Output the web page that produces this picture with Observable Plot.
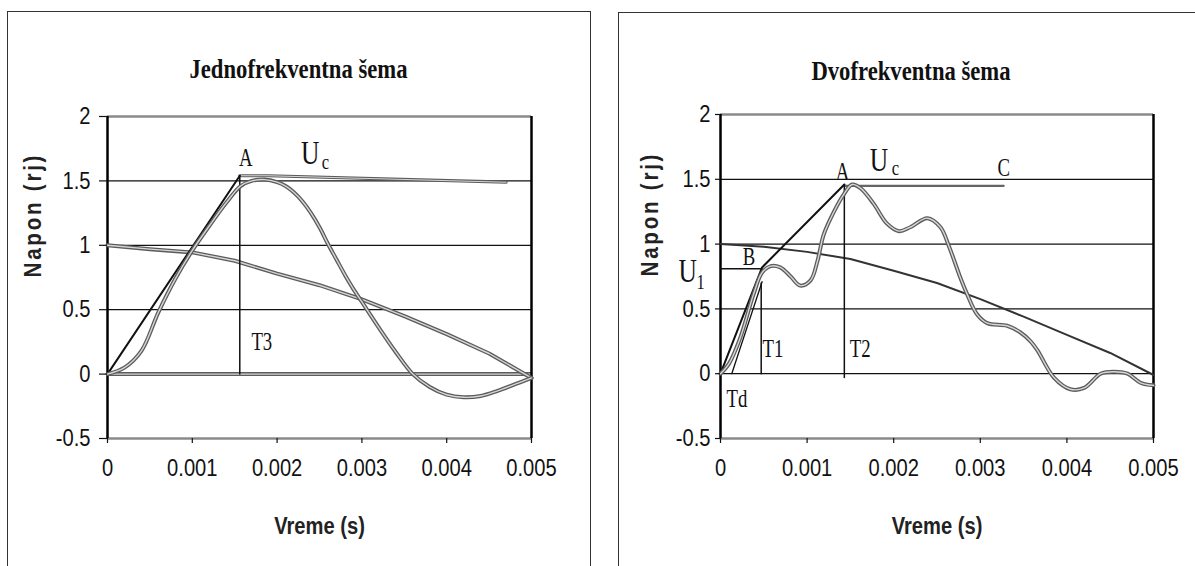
<!DOCTYPE html>
<html>
<head>
<meta charset="utf-8">
<script src="https://cdn.jsdelivr.net/npm/d3@7"></script>
<script src="https://cdn.jsdelivr.net/npm/@observablehq/plot@0.6"></script>
<style>
  html, body { margin: 0; padding: 0; background: #fff; }
  #page { position: relative; width: 1195px; height: 566px; overflow: hidden; background: #fff; }
  .frame { position: absolute; border: 1.5px solid #333; box-sizing: border-box; }
  .panel { position: absolute; top: 0; }
  .panel svg { overflow: visible; }
</style>
</head>
<body>
<div id="page">
  <div class="frame" style="left:7px; top:11px; width:584px; height:600px;"></div>
  <div class="frame" style="left:618px; top:12px; width:600px; height:600px;"></div>
  <div id="left" class="panel" style="left:0px;"></div>
  <div id="right" class="panel" style="left:600px;"></div>
</div>
<script>
// ---------- shared axis data ----------
const xTicks = [0, 0.001, 0.002, 0.003, 0.004, 0.005];
const xTickLabels = ["0", "0.001", "0.002", "0.003", "0.004", "0.005"];
const yTicks = [-0.5, 0, 0.5, 1, 1.5, 2];
const yTickLabels = ["-0.5", "0", "0.5", "1", "1.5", "2"];
const xTitle = "Vreme (s)";
const yTitle = "Napon (rj)";
const leftTitle = "Jednofrekventna šema";
const rightTitle = "Dvofrekventna šema";

// ---------- left chart (jednofrekventna) ----------
const leftRespT = [0, 0.0002, 0.0004, 0.0006, 0.0008, 0.001, 0.0012, 0.0014, 0.00157, 0.0017, 0.00185, 0.002, 0.0021, 0.0022, 0.0023, 0.0024, 0.0025, 0.0026, 0.0027, 0.0028, 0.0029, 0.003, 0.0032, 0.0034, 0.0036, 0.0038, 0.004, 0.0042, 0.0044, 0.0046, 0.0048, 0.005];
const leftRespV = [0, 0.05, 0.18, 0.48, 0.74, 0.96, 1.15, 1.33, 1.46, 1.50, 1.51, 1.49, 1.46, 1.41, 1.34, 1.25, 1.14, 1.01, 0.89, 0.77, 0.66, 0.56, 0.36, 0.17, 0.00, -0.10, -0.16, -0.18, -0.17, -0.13, -0.08, -0.03];
const leftSlopeT = [0, 0.0005, 0.001, 0.0015, 0.002, 0.0025, 0.003, 0.0035, 0.004, 0.0045, 0.005];
const leftSlopeV = [1.0, 0.97, 0.945, 0.88, 0.78, 0.69, 0.58, 0.45, 0.31, 0.16, -0.03];
const leftRiseT = [0, 0.00156];
const leftRiseV = [0, 1.54];
const leftUcT = [0.00156, 0.0019, 0.0047];
const leftUcV = [1.54, 1.54, 1.49];
const leftT3T = [0.00156, 0.00156];
const leftT3V = [0, 1.54];
const leftBigText = ["A", "T3"];
const leftBigT = [0.00163, 0.00182];
const leftBigV = [1.68, 0.25];
const leftUText = ["U"];
const leftUT = [0.00239];
const leftUV = [1.716];
const leftSubText = ["c"];
const leftSubT = [0.00257];
const leftSubV = [1.65];

// ---------- right chart (dvofrekventna) ----------
const rightRespT = [0, 0.0001, 0.00023, 0.00038, 0.00048, 0.00058, 0.00069, 0.00081, 0.00092, 0.00104, 0.00112, 0.00119, 0.00131, 0.00142, 0.00152, 0.00162, 0.00177, 0.00192, 0.00206, 0.00219, 0.00239, 0.00254, 0.00264, 0.00277, 0.00285, 0.00296, 0.00308, 0.00331, 0.00346, 0.00358, 0.00366, 0.00385, 0.00404, 0.0042, 0.00439, 0.00454, 0.0047, 0.00485, 0.005];
const rightRespV = [0, 0.08, 0.28, 0.61, 0.78, 0.83, 0.82, 0.75, 0.68, 0.72, 0.87, 1.07, 1.25, 1.38, 1.46, 1.43, 1.31, 1.16, 1.10, 1.13, 1.20, 1.13, 0.98, 0.74, 0.61, 0.46, 0.39, 0.37, 0.32, 0.25, 0.18, -0.03, -0.12, -0.11, 0.0, 0.015, 0.0, -0.07, -0.09];
const rightSlopeT = [0, 0.0005, 0.001, 0.0015, 0.002, 0.0025, 0.003, 0.0035, 0.004, 0.0045, 0.005];
const rightSlopeV = [1.0, 0.98, 0.94, 0.885, 0.795, 0.70, 0.575, 0.44, 0.30, 0.16, -0.01];
const rightRiseT = [0, 0.00048, 0.00143];
const rightRiseV = [0, 0.82, 1.46];
const rightUcT = [0.00143, 0.00327];
const rightUcV = [1.45, 1.45];
const rightU1T = [0, 0.00048];
const rightU1V = [0.81, 0.81];
const rightT1T = [0.00047, 0.00047];
const rightT1V = [0, 0.70];
const rightTdT = [0.00013, 0.00048];
const rightTdV = [0, 0.71];
const rightT2T = [0.00143, 0.00143];
const rightT2V = [-0.03, 1.46];
const rightBigText = ["A", "C", "B", "T1", "T2", "Td"];
const rightBigT = [0.00141, 0.00327, 0.00033, 0.000605, 0.001614, 0.00019];
const rightBigV = [1.56, 1.59, 0.90, 0.194, 0.194, -0.194];
const rightUText = ["U", "U"];
const rightUT = [0.00183, -0.00038];
const rightUV = [1.65, 0.79];
const rightSubText = ["c", "1"];
const rightSubT = [0.00202, -0.00023];
const rightSubV = [1.585, 0.71];

// ---------- helpers ----------
const SANS = "'Liberation Sans', Arial, sans-serif";
const SERIF = "'Liberation Serif', 'Times New Roman', serif";

const pts = (ts, vs) => ts.map((t, i) => ({t, v: vs[i]}));
const lbl = (txt, ts, vs) => txt.map((s, i) => ({s, t: ts[i], v: vs[i]}));

function greyLine(data, outer, inner, curve) {
  return [
    Plot.line(data, {x: "t", y: "v", stroke: "#5c5c5c", strokeWidth: outer, curve}),
    Plot.line(data, {x: "t", y: "v", stroke: "#d6d6d6", strokeWidth: inner, curve})
  ];
}

function baseMarks(zeroGrey) {
  const marks = [
    Plot.ruleY([0.5, 1, 1.5], {stroke: "#111", strokeWidth: 1.2}),
    Plot.ruleY([2, -0.5], {stroke: "#8a8a8a", strokeWidth: 2.5}),
  ];
  if (zeroGrey) {
    marks.push(Plot.ruleY([0], {stroke: "#5c5c5c", strokeWidth: 4}));
    marks.push(Plot.ruleY([0], {stroke: "#d6d6d6", strokeWidth: 1.4}));
  } else {
    marks.push(Plot.ruleY([0], {stroke: "#111", strokeWidth: 1.2}));
  }
  marks.push(Plot.ruleX([0], {stroke: "#000", strokeWidth: 2.5}));
  marks.push(Plot.ruleX([0.005], {stroke: "#000", strokeWidth: 2.5}));
  return marks;
}

// text marks below are condensed in this order: y title, x title, chart title, letters, big U, subscripts
const textCondense = [0.9, 0.84, 0.84, 0.75, 0.75, 0.75];

function axes(tickSizeY, tickPadY, titleDx) {
  return [
    Plot.axisY(yTicks, {label: null, tickSize: tickSizeY, tickPadding: tickPadY, strokeWidth: 1.2,
      tickFormat: d => yTickLabels[yTicks.indexOf(d)], fontSize: 24, fontFamily: SANS, fill: "#111"}),
    Plot.axisX(xTicks, {label: null, tickSize: 5, tickPadding: 15, strokeWidth: 1.2,
      tickFormat: d => xTickLabels[xTicks.indexOf(d)], fontSize: 24, fontFamily: SANS, fill: "#111"}),
    Plot.text([yTitle], {frameAnchor: "left", dx: titleDx, rotate: -90, fontSize: 23,
      fontWeight: "bold", fontFamily: SANS, fill: "#222"}),
    Plot.text([xTitle], {frameAnchor: "bottom", dy: 95, fontSize: 24, fontWeight: "bold",
      fontFamily: SANS, fill: "#222"})
  ];
}

function annotations(big, u, sub) {
  return [
    Plot.text(big, {x: "t", y: "v", text: "s", fontSize: 25, fontFamily: SERIF, fill: "#111"}),
    Plot.text(u, {x: "t", y: "v", text: "s", fontSize: 34, fontFamily: SERIF, fill: "#111"}),
    Plot.text(sub, {x: "t", y: "v", text: "s", fontSize: 22, fontFamily: SERIF, fill: "#111"})
  ];
}

// narrow the glyphs horizontally, as in the scanned original
function squeeze(group, sx, spacing) {
  group.querySelectorAll("text").forEach(el => {
    const tr = el.getAttribute("transform") || "";
    el.setAttribute("transform", `${tr} scale(${sx},1)`);
    if (spacing) el.style.letterSpacing = spacing;
  });
}
function finish(svg) {
  svg.querySelectorAll('g[aria-label="x-axis tick label"], g[aria-label="y-axis tick label"]')
    .forEach(g => squeeze(g, 0.84));
  [...svg.querySelectorAll('g[aria-label="text"]')].forEach((g, i) =>
    squeeze(g, textCondense[i] ?? 0.84, i === 0 ? "3px" : null));
  return svg;
}

// ---------- left chart ----------
const leftPlot = Plot.plot({
  width: 600, height: 566,
  marginLeft: 107, marginRight: 69, marginTop: 116, marginBottom: 128,
  x: {domain: [0, 0.005]},
  y: {domain: [-0.5, 2]},
  style: {background: "transparent", color: "#111"},
  marks: [
    ...baseMarks(true),
    ...greyLine(pts(leftSlopeT, leftSlopeV), 4, 1.4, "linear"),
    ...greyLine(pts(leftUcT, leftUcV), 3.2, 1.1, "linear"),
    Plot.line(pts(leftT3T, leftT3V), {x: "t", y: "v", stroke: "#111", strokeWidth: 1.5}),
    Plot.line(pts(leftRiseT, leftRiseV), {x: "t", y: "v", stroke: "#111", strokeWidth: 2}),
    ...greyLine(pts(leftRespT, leftRespV), 4, 1.4, "catmull-rom"),
    ...axes(8, 9, -74),
    Plot.text([leftTitle], {frameAnchor: "top", dx: -21, dy: -58, fontSize: 27, fontWeight: "bold", fontFamily: SERIF, fill: "#111"}),
    ...annotations(lbl(leftBigText, leftBigT, leftBigV), lbl(leftUText, leftUT, leftUV), lbl(leftSubText, leftSubT, leftSubV))
  ]
});
document.getElementById("left").appendChild(finish(leftPlot));

// ---------- right chart ----------
const rightPlot = Plot.plot({
  width: 595, height: 566,
  marginLeft: 120, marginRight: 42, marginTop: 114, marginBottom: 128,
  x: {domain: [0, 0.005]},
  y: {domain: [-0.5, 2]},
  style: {background: "transparent", color: "#111"},
  marks: [
    ...baseMarks(false),
    Plot.line(pts(rightSlopeT, rightSlopeV), {x: "t", y: "v", stroke: "#333", strokeWidth: 2}),
    Plot.line(pts(rightUcT, rightUcV), {x: "t", y: "v", stroke: "#666", strokeWidth: 2.2}),
    Plot.line(pts(rightU1T, rightU1V), {x: "t", y: "v", stroke: "#111", strokeWidth: 1.5}),
    Plot.line(pts(rightT1T, rightT1V), {x: "t", y: "v", stroke: "#111", strokeWidth: 1.5}),
    Plot.line(pts(rightT2T, rightT2V), {x: "t", y: "v", stroke: "#111", strokeWidth: 1.5}),
    Plot.line(pts(rightTdT, rightTdV), {x: "t", y: "v", stroke: "#111", strokeWidth: 1.3}),
    Plot.line(pts(rightRiseT, rightRiseV), {x: "t", y: "v", stroke: "#111", strokeWidth: 2}),
    ...greyLine(pts(rightRespT, rightRespV), 4, 1.4, "catmull-rom"),
    ...axes(5, 5, -70),
    Plot.text([rightTitle], {frameAnchor: "top", dx: -26, dy: -54, fontSize: 27, fontWeight: "bold", fontFamily: SERIF, fill: "#111"}),
    ...annotations(lbl(rightBigText, rightBigT, rightBigV), lbl(rightUText, rightUT, rightUV), lbl(rightSubText, rightSubT, rightSubV))
  ]
});
document.getElementById("right").appendChild(finish(rightPlot));
</script>
</body>
</html>
